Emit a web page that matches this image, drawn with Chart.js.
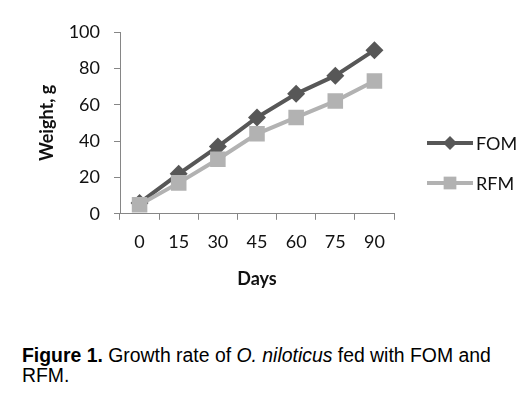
<!DOCTYPE html>
<html>
<head>
<meta charset="utf-8">
<script src="https://cdn.jsdelivr.net/npm/chart.js@4/dist/chart.umd.min.js"></script>
<style>
  html, body { margin: 0; padding: 0; background: #fff; }
  #wrap { position: relative; width: 532px; height: 300px; }
  #caption { position: absolute; left: 22px; top: 345px; font-family: "Liberation Sans", Arial, sans-serif; font-size: 19.4px; line-height: 20px; color: #000; white-space: nowrap; }
</style>
</head>
<body>
<div id="wrap"><canvas id="c" width="532" height="300"></canvas></div>
<div id="caption"><b>Figure 1.</b> Growth rate of <i>O. niloticus</i> fed with FOM and<br>RFM.</div>
<script>
const categories = ['0', '15', '30', '45', '60', '75', '90'];
const fomValues = [6, 22, 37, 53, 66, 76, 90];
const rfmValues = [5, 17, 30, 44, 53, 62, 73];
const yTicks = [0, 20, 40, 60, 80, 100];
const seriesNames = ['FOM', 'RFM'];

const FONT = 'Lato, "Open Sans", sans-serif';
const FOM_COLOR = '#575757';
const RFM_COLOR = '#b2b2b2';

const legendPlugin = {
  id: 'excelLegend',
  afterDraw(chart) {
    const ctx = chart.ctx;
    const x0 = chart.chartArea.right + 33;
    const rows = [143, 183];
    chart.data.datasets.forEach((ds, i) => {
      const y = rows[i];
      ctx.save();
      ctx.strokeStyle = ds.borderColor;
      ctx.lineWidth = ds.borderWidth;
      ctx.beginPath();
      ctx.moveTo(x0, y);
      ctx.lineTo(x0 + 46, y);
      ctx.stroke();
      ctx.fillStyle = ds.pointBackgroundColor;
      ctx.strokeStyle = ds.pointBackgroundColor;
      const opts = { pointStyle: ds.pointStyle, radius: ds.legendRadius, borderWidth: 0, rotation: 0 };
      Chart.helpers.drawPoint(ctx, opts, x0 + 23, y);
      ctx.fillStyle = '#111';
      ctx.font = '18px ' + FONT;
      ctx.textBaseline = 'middle';
      ctx.textAlign = 'left';
      ctx.fillText(ds.label, x0 + 49, y + 1);
      ctx.restore();
    });
  }
};

new Chart(document.getElementById('c'), {
  type: 'line',
  data: {
    labels: categories,
    datasets: [
      {
        label: seriesNames[0], data: fomValues,
        borderColor: FOM_COLOR, backgroundColor: FOM_COLOR,
        pointBackgroundColor: FOM_COLOR, pointBorderColor: FOM_COLOR,
        borderWidth: 4, pointStyle: 'rectRot', pointRadius: 9, pointBorderWidth: 0,
        pointHoverRadius: 9, legendRadius: 7, order: 1, tension: 0
      },
      {
        label: seriesNames[1], data: rfmValues,
        borderColor: RFM_COLOR, backgroundColor: RFM_COLOR,
        pointBackgroundColor: RFM_COLOR, pointBorderColor: RFM_COLOR,
        borderWidth: 4, pointStyle: 'rect', pointRadius: 11, pointBorderWidth: 0,
        pointHoverRadius: 11, legendRadius: 9, order: 0, tension: 0
      }
    ]
  },
  options: {
    responsive: false,
    animation: false,
    events: [],
    layout: { padding: { left: 20, right: 138, top: 32, bottom: 10 } },
    plugins: { legend: { display: false }, tooltip: { enabled: false } },
    scales: {
      x: {
        offset: true,
        grid: { offset: true, drawOnChartArea: false, drawTicks: true, tickLength: 6, color: '#868686', lineWidth: 1 },
        border: { color: '#868686', width: 1 },
        ticks: { color: '#111', font: { family: FONT, size: 18 }, padding: 12, maxRotation: 0 },
        title: { display: true, text: 'Days', color: '#111', font: { family: FONT, size: 18, weight: 'bold' }, padding: { top: 3, bottom: 0 } }
      },
      y: {
        min: 0, max: 100,
        afterBuildTicks(scale) { scale.ticks = yTicks.map(v => ({ value: v })); },
        afterFit(scale) { scale.width = 100; },
        grid: { drawOnChartArea: false, drawTicks: true, tickLength: 6, color: '#868686', lineWidth: 1 },
        border: { color: '#868686', width: 1 },
        ticks: { color: '#111', font: { family: FONT, size: 18 }, padding: 14 },
        title: { display: true, text: 'Weight, g', color: '#111', font: { family: FONT, size: 18, weight: 'bold' }, padding: { top: 16, bottom: 0 } }
      }
    }
  },
  plugins: [legendPlugin]
});
</script>
</body>
</html>
